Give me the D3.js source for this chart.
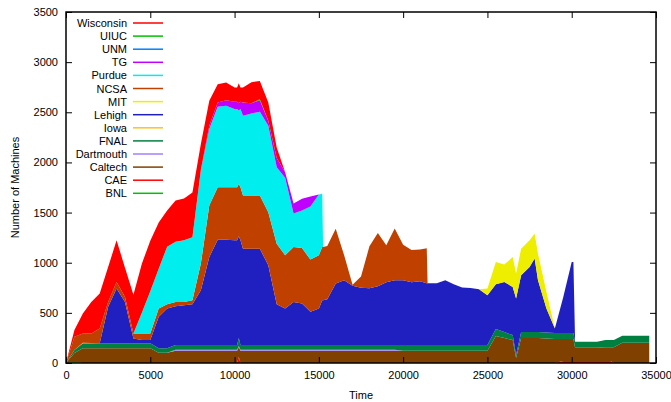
<!DOCTYPE html>
<html><head><meta charset="utf-8">
<script src="https://cdn.jsdelivr.net/npm/d3@7"></script>
<style>
body{margin:0;background:#fff}
svg{display:block}
text{font-family:"Liberation Sans",Arial,Helvetica,sans-serif;font-size:11px;fill:#000}
</style>
</head><body>
<svg id="chart" width="671" height="402"></svg>
<script>
const times = [0,500,1000,1500,2000,2500,3000,3500,4000,4500,
  5000,5500,6000,6500,7000,7500,8000,8500,9000,9500,
  10000,10150,10250,10350,10500,11000,11500,12000,12500,13000,
  13500,14000,14500,15000,15200,15250,15500,16000,16500,17000,
  17500,18000,18500,19000,19500,20000,20500,21000,21400,21450,
  22000,22500,23000,23500,24000,24500,25000,25500,26000,26500,
  26700,27000,27500,27800,28000,28500,29000,29500,30000,30100,
  30200,30500,31000,31500,32000,32300,32500,33000,33500,34000,
  34600];

const BNL = [0,10,0,0,0,0,0,0,0,0, 0,0,0,0,0,0,0,0,0,0, 0,0,0,0,0,0,0,0,0,0, 0,0,0,0,0,0,0,0,0,0,
  0,0,0,0,0,0,0,0,0,0, 0,0,0,0,0,0,0,0,0,0, 0,0,0,0,0,0,0,0,0,0, 0,0,0,0,0,0,0,0,0,0, 0];
const CAE = [0,0,0,0,0,0,0,0,0,0, 0,0,0,0,0,0,0,0,0,0, 0,0,60,0,0,0,0,0,0,0, 0,0,0,0,0,0,0,0,0,0,
  0,0,0,0,0,0,0,0,0,0, 0,0,0,0,0,0,0,0,0,0, 0,0,0,0,0,0,0,20,20,20, 20,20,20,20,20,20,0,0,0,0, 0];
const Caltech = [0,90,146,146,146,146,146,146,146,146, 146,102,102,122,122,122,122,122,122,122,
  122,122,99,122,122,122,122,122,122,122, 122,122,122,122,122,122,122,122,122,122,
  122,122,122,122,122,122,122,122,122,122, 122,122,122,122,122,122,122,268,249,229,
  50,249,249,249,249,244,239,219,219,219, 132,132,132,132,136,136,156,202,202,202, 202];
const Dartmouth = [0,0,0,0,0,0,0,0,0,0, 0,0,0,10,10,10,10,10,10,10, 10,10,10,10,10,10,10,10,10,10,
  10,10,10,10,10,10,10,10,10,10, 10,10,10,10,10,0,0,0,0,0, 0,0,0,0,0,0,0,0,0,0,
  0,0,0,0,0,0,0,0,0,0, 0,0,0,0,0,0,0,0,0,0, 0];
const FNAL = [0,30,50,50,50,50,50,50,50,50, 50,44,44,47,47,47,47,47,47,47,
  47,47,80,47,47,47,47,47,47,47, 47,47,47,47,47,47,47,47,47,47,
  47,47,47,47,47,57,57,57,57,57, 57,57,57,57,57,57,57,70,59,49,
  30,59,59,59,59,59,59,59,59,59, 60,60,60,60,73,73,73,69,69,69, 69];
const Iowa = [0,0,5,3,0,0,0,0,0,0, 0,0,0,0,0,0,0,0,0,0, 0,0,0,0,0,0,0,0,0,0, 0,0,0,0,0,0,0,0,0,0,
  0,0,0,0,0,0,0,0,0,0, 0,0,0,0,0,0,0,0,0,0, 0,0,0,0,0,0,0,0,0,0, 0,0,0,0,0,0,0,0,0,0, 0];
const Lehigh = [0,0,0,0,0,364,546,413,49,33, 33,314,398,388,398,407,547,878,1051,1051,
  1044,1044,1016,1044,961,961,961,795,407,365, 430,414,331,365,447,447,457,613,646,591,
  571,566,586,626,646,646,626,636,616,616, 616,646,606,573,570,557,497,447,500,480,
  563,567,649,733,517,241,47,361,709,709, 0,0,0,0,0,0,0,0,0,0, 0];
const MIT = [0,0,0,0,0,0,0,0,0,0, 0,0,0,0,0,0,0,0,0,0, 0,0,0,0,0,0,0,0,0,0, 0,0,0,0,0,0,0,0,0,0,
  0,0,0,0,0,0,0,0,0,0, 0,0,0,0,0,0,66,222,173,299,
  249,265,266,248,265,166,0,0,0,0, 0,0,0,0,0,0,0,0,0,0, 0];
const NCSA = [0,131,94,96,149,49,66,50,50,66, 66,84,42,42,32,40,265,514,522,522,
  529,529,521,529,530,530,530,530,604,530, 547,553,521,530,530,530,530,547,250,10,
  112,418,532,370,517,353,323,318,348,0, 0,0,0,0,0,0,0,0,0,0,
  0,0,0,0,0,0,0,0,0,0, 0,0,0,0,0,0,0,0,0,0, 0];
const Purdue = [0,0,0,0,0,0,0,0,0,205, 420,396,574,601,614,629,927,762,803,813,
  780,780,732,780,795,818,835,862,761,772, 335,375,530,606,531,0,0,0,0,0,
  0,0,0,0,0,0,0,0,0,0, 0,0,0,0,0,0,0,0,0,0, 0,0,0,0,0,0,0,0,0,0, 0,0,0,0,0,0,0,0,0,0, 0];
const TG = [0,0,0,0,0,0,0,0,0,0, 0,0,0,0,0,0,10,33,42,56,
  72,72,73,72,132,103,116,49,94,56, 99,116,99,0,0,0,0,0,0,0,
  0,0,0,0,0,0,0,0,0,0, 0,0,0,0,0,0,0,0,0,0, 0,0,0,0,0,0,0,0,0,0, 0,0,0,0,0,0,0,0,0,0, 0];
const UNM = [0,0,0,0,0,0,0,0,0,0, 0,0,0,0,0,0,0,0,0,0, 0,0,0,0,0,0,0,0,0,0, 0,0,0,0,0,0,0,0,0,0,
  0,0,0,0,0,0,0,0,0,0, 0,0,0,0,0,0,0,0,0,0, 0,0,0,0,0,0,0,0,0,0, 0,0,0,0,0,0,0,0,0,0, 0];
const UIUC = [0,0,0,0,0,0,0,0,0,0, 0,0,0,0,0,0,0,0,0,0, 0,0,0,0,0,0,8,0,0,0, 0,0,0,0,0,0,0,0,0,0,
  0,0,0,0,0,0,0,0,0,0, 0,0,0,0,0,0,0,0,0,0, 0,0,0,0,0,0,0,0,0,0, 0,0,0,0,0,0,0,0,0,0, 0];
const Wisconsin = [0,67,199,314,348,348,415,291,385,490, 505,460,361,410,417,445,256,248,183,175,
  142,142,199,142,149,209,184,182,105,0, 0,0,0,0,0,0,0,0,0,0,
  0,0,0,0,0,0,0,0,0,0, 0,0,0,0,0,0,0,0,0,0, 0,0,0,0,0,0,0,0,0,0, 0,0,0,0,0,0,0,0,0,0, 0];

const legendNames = ["Wisconsin","UIUC","UNM","TG","Purdue","NCSA","MIT","Lehigh","Iowa","FNAL","Dartmouth","Caltech","CAE","BNL"];
const legendColors = ["#ff0000","#00c000","#0080ff","#c000ff","#00eeee","#c04000","#eeee00","#2020c0","#ffc020","#008040","#a080ff","#804000","#ff0000","#00c000"];
const xTicks = [0,5000,10000,15000,20000,25000,30000,35000];
const yTicks = [0,500,1000,1500,2000,2500,3000,3500];

const seriesMap = {BNL, CAE, Caltech, Dartmouth, FNAL, Iowa, Lehigh, MIT, NCSA, Purdue, TG, UNM, UIUC, Wisconsin};
const colorMap = {};
legendNames.forEach((n,i)=>colorMap[n]=legendColors[i]);
const stackKeys = legendNames.slice().reverse();

const svg = d3.select("#chart");
const L=66, R=656, T=12, B=363;
const x = d3.scaleLinear().domain([0,35000]).range([L,R]);
const y = d3.scaleLinear().domain([0,3500]).range([B,T]);

const table = times.map((t,i)=>{const o={t}; stackKeys.forEach(k=>o[k]=seriesMap[k][i]); return o;});
const stacked = d3.stack().keys(stackKeys)(table);
const area = d3.area().x(d=>x(d.data.t)).y0(d=>y(d[0])).y1(d=>y(d[1]));

svg.append("g").selectAll("path").data(stacked).join("path")
  .attr("fill", d=>colorMap[d.key]).attr("d", area);

// axes
const gx = svg.append("g").attr("transform",`translate(0,${B})`)
  .call(d3.axisBottom(x).tickValues(xTicks).tickFormat(d3.format("d")).tickSize(-6).tickPadding(8));
const gy = svg.append("g").attr("transform",`translate(${L},0)`)
  .call(d3.axisLeft(y).tickValues(yTicks).tickFormat(d3.format("d")).tickSize(-6).tickPadding(8));
const gt = svg.append("g").attr("transform",`translate(0,${T})`)
  .call(d3.axisTop(x).tickValues(xTicks).tickFormat("").tickSize(-6));
const gr = svg.append("g").attr("transform",`translate(${R},0)`)
  .call(d3.axisRight(y).tickValues(yTicks).tickFormat("").tickSize(-6));
[gx,gy,gt,gr].forEach(g=>{
  g.select(".domain").remove();
  g.selectAll(".tick line").attr("stroke","#000").attr("stroke-width",1);
  g.selectAll("text").attr("font-size",11).attr("font-family",'"Liberation Sans",Arial,sans-serif').attr("fill","#000");
});
svg.append("rect").attr("x",L).attr("y",T).attr("width",R-L).attr("height",B-T)
  .attr("fill","none").attr("stroke","#000").attr("stroke-width",1.5);

svg.append("text").attr("x",(L+R)/2).attr("y",399).attr("text-anchor","middle").text("Time");
svg.append("text").attr("transform",`translate(19,${(T+B)/2}) rotate(-90)`).attr("text-anchor","middle").text("Number of Machines");

// legend
const lg = svg.append("g");
legendNames.forEach((n,i)=>{
  const cy = 23 + i*13.1;
  lg.append("text").attr("x",127).attr("y",cy+4).attr("text-anchor","end").text(n);
  lg.append("line").attr("x1",133).attr("x2",163).attr("y1",cy).attr("y2",cy)
    .attr("stroke",legendColors[i]).attr("stroke-width",1.5);
});
</script>
</body></html>
